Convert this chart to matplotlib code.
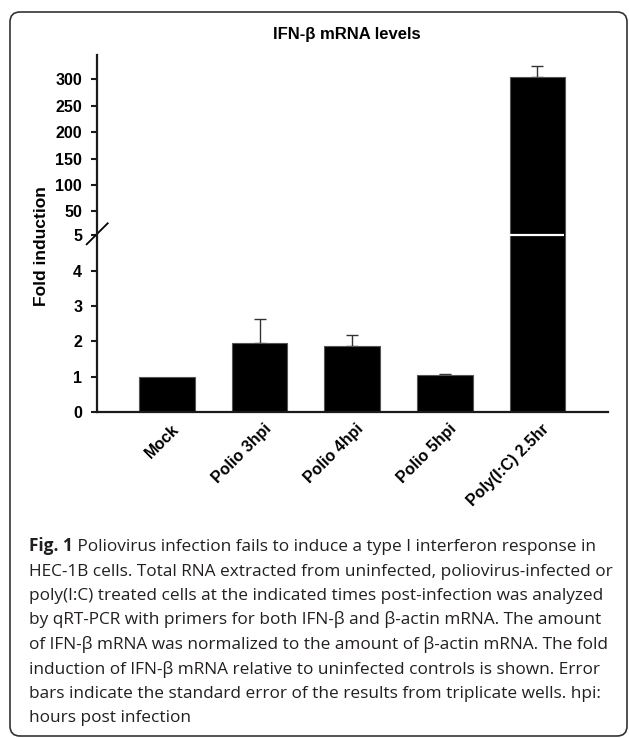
import matplotlib
matplotlib.use('Agg')
import matplotlib.pyplot as plt
import matplotlib.transforms as mtransforms
from matplotlib.patches import FancyBboxPatch
import numpy as np

# ---------------- data ----------------
categories = ['Mock', 'Polio 3hpi', 'Polio 4hpi', 'Polio 5hpi', 'Poly(I:C) 2.5hr']
fold_induction = [1.0, 1.96, 1.88, 1.04, 305.0]
std_error = [0.0, 0.68, 0.29, 0.04, 20.0]
ytick_values = [0, 1, 2, 3, 4, 5, 50, 100, 150, 200, 250, 300]
title_text = 'IFN-β mRNA levels'
ylabel_text = 'Fold induction'
caption_bold = 'Fig. 1'
caption_lines = [
    ' Poliovirus infection fails to induce a type I interferon response in',
    'HEC-1B cells. Total RNA extracted from uninfected, poliovirus-infected or',
    'poly(I:C) treated cells at the indicated times post-infection was analyzed',
    'by qRT-PCR with primers for both IFN-β and β-actin mRNA. The amount',
    'of IFN-β mRNA was normalized to the amount of β-actin mRNA. The fold',
    'induction of IFN-β mRNA relative to uninfected controls is shown. Error',
    'bars indicate the standard error of the results from triplicate wells. hpi:',
    'hours post infection',
]

# broken-axis scale: linear up to 5, compressed above
BREAK = 5.0
RATIO = 0.01492


def forward(y):
    y = np.asarray(y, dtype=float)
    return np.where(y <= BREAK, y, BREAK + (y - BREAK) * RATIO)


def inverse(t):
    t = np.asarray(t, dtype=float)
    return np.where(t <= BREAK, t, BREAK + (t - BREAK) / RATIO)


W, H, DPI = 629, 738, 100
fig = plt.figure(figsize=(W / DPI, H / DPI), dpi=DPI)
plt.rcParams['font.family'] = ['Liberation Sans', 'DejaVu Sans']

# rounded frame
frame = FancyBboxPatch((10, H - 736), 617, 724, boxstyle='round,pad=0,rounding_size=10',
                       transform=mtransforms.IdentityTransform(), facecolor='none',
                       edgecolor='#333333', linewidth=1.2)
fig.patches.append(frame)

ax_l, ax_r, ax_b, ax_t = 96.7, 607.7, 412.3, 55.0
ax = fig.add_axes([ax_l / W, (H - ax_b) / H, (ax_r - ax_l) / W, (ax_b - ax_t) / H])
ax.set_yscale('function', functions=(forward, inverse))

x = np.arange(len(categories))
vals = np.array(fold_induction)
errs = np.array(std_error)
ax.bar(x, vals, width=0.6, color='black', edgecolor='#555555', linewidth=0.8, zorder=2)
mask = errs > 0
ax.errorbar(x[mask], vals[mask], yerr=[np.zeros(mask.sum()), errs[mask]], fmt='none',
            ecolor='#333333', elinewidth=1.0, capsize=4.2, capthick=1.0, zorder=1)
# white break line on bars exceeding the break
for xi, v in zip(x, vals):
    if v > BREAK:
        ax.hlines(BREAK, xi - 0.29, xi + 0.29, color='white', linewidth=1.6, zorder=3)

ax.set_xlim(-0.76, 4.76)
ax.set_ylim(0, 345.9)
ax.set_yticks(ytick_values)
ax.set_yticklabels([str(v) for v in ytick_values], fontsize=11.5, fontweight='bold')
ax.tick_params(axis='y', length=4, width=1.5, pad=6.5, direction='out', color='#1a1a1a')
ax.set_xticks([])
for s in ['top', 'right']:
    ax.spines[s].set_visible(False)
for s in ['left', 'bottom']:
    ax.spines[s].set_linewidth(1.6)
    ax.spines[s].set_color('#1a1a1a')
ax.set_facecolor('none')

# break slash on the y axis
ax.plot([-0.0196, 0.0215], [0.4702, 0.529], transform=ax.transAxes, color='black',
        linewidth=1.3, clip_on=False)

# category labels
lab_trans = mtransforms.blended_transform_factory(ax.transData, ax.transAxes) + \
    mtransforms.ScaledTranslation(4 / DPI, -9 / DPI, fig.dpi_scale_trans)
for xi, c in zip(x, categories):
    ax.text(xi, 0, c, transform=lab_trans, rotation=45, ha='right', va='top',
            rotation_mode='anchor', fontsize=11.5, fontweight='bold')

fig.text(347 / W, 1 - 35 / H, title_text, ha='center', va='center', fontsize=12,
         fontweight='bold')
fig.text(42 / W, 1 - 245.8 / H, ylabel_text, rotation=90, ha='center', va='center',
         fontsize=12.5, fontweight='bold')

# caption
renderer = fig.canvas.get_renderer()
cap_family = ['Open Sans', 'DejaVu Sans']
probe = fig.text(0, 0, caption_lines[1], fontsize=12, family=cap_family)
pw = probe.get_window_extent(renderer).width
probe.remove()
cap_x = 29
cap_fs = 12 * (606 - cap_x) / pw
base0 = 551
step = 24.5
cap_color = '#231f20'
tb = fig.text(cap_x / W, 1 - base0 / H, caption_bold, fontsize=cap_fs, family=cap_family,
              fontweight='bold', va='baseline', ha='left', color=cap_color)
bw = tb.get_window_extent(renderer).width
for i, line in enumerate(caption_lines):
    xx = cap_x + (bw if i == 0 else 0)
    fig.text(xx / W, 1 - (base0 + i * step) / H, line, fontsize=cap_fs, family=cap_family,
             va='baseline', ha='left', color=cap_color)

fig.savefig('out.png', dpi=DPI)
